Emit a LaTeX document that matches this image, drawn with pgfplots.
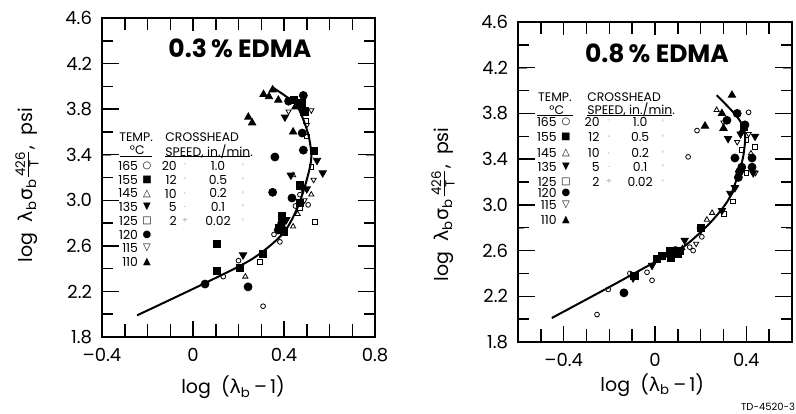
\documentclass[border=0pt]{standalone}
\usepackage{fontspec}
\setmainfont{Poppins}
\newfontfamily\greek{DejaVu Sans}
\newfontfamily\sym{DejaVu Sans}
\usepackage{amsmath}
\usepackage{pgfplots}
\pgfplotsset{compat=1.18}

\tikzset{
  leg/.style={font=\fontsize{6.2}{7}\selectfont, inner sep=0pt},
  lsym/.style={font=\sym\fontsize{5}{6}\selectfont, inner sep=0pt},
  ssym/.style={font=\sym\fontsize{3.5}{4}\selectfont, inner sep=0pt, gray},
  tk/.style={black, line width=0.75pt},
}

\pgfplotsset{
  panel/.style={
    scale only axis, anchor=south west,
    ymin=1.8, ymax=4.6,
    ytick={1.8,2.2,2.6,3.0,3.4,3.8,4.2,4.6},
    yticklabels={1.8,2.2,2.6,3.0,3.4,3.8,4.2,4.6},
    minor ytick={2.0,2.4,2.8,3.2,3.6,4.0,4.4},
    axis line style={line width=1pt},
    tick label style={font=\fontsize{9}{10}\selectfont},
    xticklabel style={yshift=-2pt},
    yticklabel style={xshift=-1.5pt},
    label style={font=\fontsize{9.5}{11}\selectfont},
    xlabel={log\ \ ({\greek λ}\textsubscript{b}\,\textendash\,1)},
    ylabel={log\ \ {\greek λ}\textsubscript{b}{\greek σ}\textsubscript{b}$\frac{\text{426}}{\text{T}}$,\ \ psi},
    clip=false,
  },
  fitcurve/.style={black, line width=1pt, smooth, no marks},
  t165/.style={only marks, mark=o, mark size=1.2pt, mark options={line width=0.4pt, black}},
  t155/.style={only marks, mark=square*, mark size=1.8pt, mark options={black}},
  t145/.style={only marks, mark=triangle, mark size=1.5pt, mark options={line width=0.4pt, black}},
  t135/.style={only marks, mark=triangle*, mark size=2.1pt, mark options={rotate=180, black}},
  t125/.style={only marks, mark=square, mark size=1.2pt, mark options={line width=0.4pt, black}},
  t120/.style={only marks, mark=*, mark size=2pt, mark options={black}},
  t115/.style={only marks, mark=triangle, mark size=1.5pt, mark options={rotate=180, line width=0.4pt, black}},
  t110/.style={only marks, mark=triangle*, mark size=2.1pt, mark options={black}},
}

\begin{document}
\begin{tikzpicture}
\useasboundingbox (0,0) rectangle (398pt,206.5pt);

% ---------------- 0.3 % EDMA ----------------
\begin{axis}[panel,
  at={(51pt,38pt)}, width=136.5pt, height=159.5pt,
  xmin=-0.4, xmax=0.8,
  xtick={-0.4,0,0.4,0.8}, xticklabels={\textendash0.4,0,0.4,0.8},
  minor xtick={-0.3,-0.2,-0.1,0.1,0.2,0.3,0.5,0.6,0.7},
  xlabel style={at={(axis description cs:0.48,-0.157)}, anchor=center},
  ylabel style={at={(axis description cs:-0.275,0.476)}, anchor=center},
]
% inward tick marks on all four sides
\draw[tk] (axis cs:-0.4,2.2)--(axis cs:-0.325,2.2) (axis cs:-0.4,2.6)--(axis cs:-0.325,2.6)
  (axis cs:-0.4,3.0)--(axis cs:-0.325,3.0) (axis cs:-0.4,3.4)--(axis cs:-0.325,3.4)
  (axis cs:-0.4,3.8)--(axis cs:-0.325,3.8) (axis cs:-0.4,4.2)--(axis cs:-0.325,4.2);
\draw[tk] (axis cs:0.8,2.2)--(axis cs:0.725,2.2) (axis cs:0.8,2.6)--(axis cs:0.725,2.6)
  (axis cs:0.8,3.0)--(axis cs:0.725,3.0) (axis cs:0.8,3.4)--(axis cs:0.725,3.4)
  (axis cs:0.8,3.8)--(axis cs:0.725,3.8) (axis cs:0.8,4.2)--(axis cs:0.725,4.2);
\draw[tk] (axis cs:-0.4,2.0)--(axis cs:-0.352,2.0) (axis cs:-0.4,2.4)--(axis cs:-0.352,2.4)
  (axis cs:-0.4,2.8)--(axis cs:-0.352,2.8) (axis cs:-0.4,3.2)--(axis cs:-0.352,3.2)
  (axis cs:-0.4,3.6)--(axis cs:-0.352,3.6) (axis cs:-0.4,4.0)--(axis cs:-0.352,4.0)
  (axis cs:-0.4,4.4)--(axis cs:-0.352,4.4);
\draw[tk] (axis cs:0.8,2.0)--(axis cs:0.752,2.0) (axis cs:0.8,2.4)--(axis cs:0.752,2.4)
  (axis cs:0.8,2.8)--(axis cs:0.752,2.8) (axis cs:0.8,3.2)--(axis cs:0.752,3.2)
  (axis cs:0.8,3.6)--(axis cs:0.752,3.6) (axis cs:0.8,4.0)--(axis cs:0.752,4.0)
  (axis cs:0.8,4.4)--(axis cs:0.752,4.4);
\draw[tk] (axis cs:0,1.8)--(axis cs:0,1.94) (axis cs:0.4,1.8)--(axis cs:0.4,1.94)
  (axis cs:0,4.6)--(axis cs:0,4.486) (axis cs:0.4,4.6)--(axis cs:0.4,4.486);
\draw[tk] (axis cs:-0.3,1.8)--(axis cs:-0.3,1.914) (axis cs:-0.2,1.8)--(axis cs:-0.2,1.914)
  (axis cs:-0.1,1.8)--(axis cs:-0.1,1.914) (axis cs:0.1,1.8)--(axis cs:0.1,1.914)
  (axis cs:0.2,1.8)--(axis cs:0.2,1.914) (axis cs:0.3,1.8)--(axis cs:0.3,1.914)
  (axis cs:0.5,1.8)--(axis cs:0.5,1.914) (axis cs:0.6,1.8)--(axis cs:0.6,1.914)
  (axis cs:0.7,1.8)--(axis cs:0.7,1.914);
\draw[tk] (axis cs:-0.3,4.6)--(axis cs:-0.3,4.495) (axis cs:-0.2,4.6)--(axis cs:-0.2,4.495)
  (axis cs:-0.1,4.6)--(axis cs:-0.1,4.495) (axis cs:0.1,4.6)--(axis cs:0.1,4.495)
  (axis cs:0.2,4.6)--(axis cs:0.2,4.495) (axis cs:0.3,4.6)--(axis cs:0.3,4.495)
  (axis cs:0.5,4.6)--(axis cs:0.5,4.495) (axis cs:0.6,4.6)--(axis cs:0.6,4.495)
  (axis cs:0.7,4.6)--(axis cs:0.7,4.495);

\addplot[fitcurve] coordinates {(-0.246,1.99) (0.06,2.28) (0.264,2.49) (0.396,2.71)
  (0.46,2.94) (0.50,3.18) (0.52,3.38) (0.505,3.59) (0.46,3.82) (0.41,3.91) (0.35,3.99)};
\addplot[t165] coordinates {(0.133,2.33) (0.20,2.47) (0.308,2.07) (0.356,2.70)
  (0.382,2.635) (0.506,2.96) (0.45,2.95) (0.47,3.05)};
\addplot[t155] coordinates {(0.104,2.38) (0.207,2.405) (0.104,2.62) (0.308,2.53)
  (0.47,2.98) (0.53,3.43) (0.48,3.85) (0.39,2.86) (0.38,2.76) (0.40,2.72)
  (0.47,3.13) (0.445,3.88) (0.49,3.78)};
\addplot[t145] coordinates {(0.23,2.33) (0.44,2.77) (0.44,3.22) (0.46,2.88) (0.52,3.05)};
\addplot[t135] coordinates {(0.22,2.52) (0.48,3.11) (0.50,3.10) (0.545,3.35)
  (0.57,3.24) (0.404,3.73) (0.43,3.22) (0.465,3.84) (0.41,2.83)};
\addplot[t125] coordinates {(0.295,2.46) (0.536,2.81) (0.497,3.70) (0.50,3.56)
  (0.52,3.29) (0.47,2.93)};
\addplot[t120] coordinates {(0.053,2.265) (0.242,2.24) (0.35,3.07) (0.36,3.38)
  (0.435,3.02) (0.485,3.44) (0.48,3.59) (0.485,3.92) (0.42,3.87) (0.396,2.74)
  (0.375,2.74) (0.39,2.80)};
\addplot[t115] coordinates {(0.52,3.79) (0.50,3.66) (0.53,3.18) (0.42,3.78) (0.49,3.00)};
\addplot[t110] coordinates {(0.35,3.97) (0.334,3.91) (0.243,3.73) (0.26,3.68)
  (0.44,3.60) (0.375,3.88) (0.45,3.82) (0.31,3.93)};

\node[font=\bfseries\fontsize{12.5}{14}\selectfont] at (axis description cs:0.505,0.906) {0.3\,\% EDMA};

% key: temperature and crosshead speed
\node[leg] at (axis cs:-0.25,3.556) {TEMP.};
\node[leg] at (axis cs:-0.245,3.44) {°C};
\draw[line width=0.5pt] (axis cs:-0.321,3.38) -- (axis cs:-0.18,3.38);
\node[leg, anchor=west] at (axis cs:-0.123,3.556) {CROSSHEAD};
\node[leg, anchor=west] at (axis cs:-0.123,3.43) {SPEED, in./min.};
\draw[line width=0.5pt] (axis cs:-0.123,3.38) -- (axis cs:0.25,3.38);

\node[leg, anchor=east] at (axis cs:-0.24,3.30) {165};
\node[leg, anchor=east] at (axis cs:-0.24,3.18) {155};
\node[leg, anchor=east] at (axis cs:-0.24,3.06) {145};
\node[leg, anchor=east] at (axis cs:-0.24,2.94) {135};
\node[leg, anchor=east] at (axis cs:-0.24,2.82) {125};
\node[leg, anchor=east] at (axis cs:-0.24,2.70) {120};
\node[leg, anchor=east] at (axis cs:-0.24,2.58) {115};
\node[leg, anchor=east] at (axis cs:-0.24,2.46) {110};
\node[lsym] at (axis cs:-0.202,3.30) {○};
\node[lsym] at (axis cs:-0.202,3.18) {■};
\node[lsym] at (axis cs:-0.202,3.06) {△};
\node[lsym] at (axis cs:-0.202,2.94) {▼};
\node[lsym] at (axis cs:-0.202,2.82) {□};
\node[lsym] at (axis cs:-0.202,2.70) {●};
\node[lsym] at (axis cs:-0.202,2.58) {▽};
\node[lsym] at (axis cs:-0.202,2.46) {▲};

\node[leg, anchor=east] at (axis cs:-0.07,3.30) {20};
\node[leg, anchor=east] at (axis cs:-0.07,3.18) {12};
\node[leg, anchor=east] at (axis cs:-0.07,3.06) {10};
\node[leg, anchor=east] at (axis cs:-0.07,2.94) {5};
\node[leg, anchor=east] at (axis cs:-0.07,2.82) {2};
\node[ssym] at (axis cs:-0.035,3.30) {ˈ};
\node[ssym] at (axis cs:-0.035,3.18) {-};
\node[ssym] at (axis cs:-0.035,3.06) {ˎ};
\node[ssym] at (axis cs:-0.035,2.94) {.};
\node[ssym] at (axis cs:-0.035,2.82) {÷};

\node[leg] at (axis cs:0.11,3.30) {1.0};
\node[leg] at (axis cs:0.11,3.18) {0.5};
\node[leg] at (axis cs:0.11,3.06) {0.2};
\node[leg] at (axis cs:0.11,2.94) {0.1};
\node[leg] at (axis cs:0.11,2.82) {0.02};
\node[ssym] at (axis cs:0.22,3.30) {◦};
\node[ssym] at (axis cs:0.22,3.18) {◦};
\node[ssym] at (axis cs:0.22,3.06) {◦};
\node[ssym] at (axis cs:0.22,2.94) {◦};
\node[ssym] at (axis cs:0.22,2.82) {◦};
\end{axis}

% ---------------- 0.8 % EDMA ----------------
\begin{axis}[panel,
  at={(259pt,35.5pt)}, width=137pt, height=160pt,
  xmin=-0.6, xmax=0.6,
  xtick={-0.4,0,0.4}, xticklabels={\textendash0.4,0,0.4},
  minor xtick={-0.5,-0.3,-0.2,-0.1,0.1,0.2,0.3,0.5},
  xlabel style={at={(axis description cs:0.49,-0.134)}, anchor=center},
  ylabel style={at={(axis description cs:-0.274,0.43)}, anchor=center},
]
% inward tick marks on all four sides
\draw[tk] (axis cs:-0.6,2.2)--(axis cs:-0.525,2.2) (axis cs:-0.6,2.6)--(axis cs:-0.525,2.6)
  (axis cs:-0.6,3.0)--(axis cs:-0.525,3.0) (axis cs:-0.6,3.4)--(axis cs:-0.525,3.4)
  (axis cs:-0.6,3.8)--(axis cs:-0.525,3.8) (axis cs:-0.6,4.2)--(axis cs:-0.525,4.2);
\draw[tk] (axis cs:0.6,2.2)--(axis cs:0.525,2.2) (axis cs:0.6,2.6)--(axis cs:0.525,2.6)
  (axis cs:0.6,3.0)--(axis cs:0.525,3.0) (axis cs:0.6,3.4)--(axis cs:0.525,3.4)
  (axis cs:0.6,3.8)--(axis cs:0.525,3.8) (axis cs:0.6,4.2)--(axis cs:0.525,4.2);
\draw[tk] (axis cs:-0.6,2.0)--(axis cs:-0.552,2.0) (axis cs:-0.6,2.4)--(axis cs:-0.552,2.4)
  (axis cs:-0.6,2.8)--(axis cs:-0.552,2.8) (axis cs:-0.6,3.2)--(axis cs:-0.552,3.2)
  (axis cs:-0.6,3.6)--(axis cs:-0.552,3.6) (axis cs:-0.6,4.0)--(axis cs:-0.552,4.0)
  (axis cs:-0.6,4.4)--(axis cs:-0.552,4.4);
\draw[tk] (axis cs:0.6,2.0)--(axis cs:0.552,2.0) (axis cs:0.6,2.4)--(axis cs:0.552,2.4)
  (axis cs:0.6,2.8)--(axis cs:0.552,2.8) (axis cs:0.6,3.2)--(axis cs:0.552,3.2)
  (axis cs:0.6,3.6)--(axis cs:0.552,3.6) (axis cs:0.6,4.0)--(axis cs:0.552,4.0)
  (axis cs:0.6,4.4)--(axis cs:0.552,4.4);
\draw[tk] (axis cs:-0.4,1.8)--(axis cs:-0.4,1.94) (axis cs:0,1.8)--(axis cs:0,1.94)
  (axis cs:0.4,1.8)--(axis cs:0.4,1.94)
  (axis cs:-0.4,4.6)--(axis cs:-0.4,4.486) (axis cs:0,4.6)--(axis cs:0,4.486)
  (axis cs:0.4,4.6)--(axis cs:0.4,4.486);
\draw[tk] (axis cs:-0.5,1.8)--(axis cs:-0.5,1.914) (axis cs:-0.3,1.8)--(axis cs:-0.3,1.914)
  (axis cs:-0.2,1.8)--(axis cs:-0.2,1.914) (axis cs:-0.1,1.8)--(axis cs:-0.1,1.914)
  (axis cs:0.1,1.8)--(axis cs:0.1,1.914) (axis cs:0.2,1.8)--(axis cs:0.2,1.914)
  (axis cs:0.3,1.8)--(axis cs:0.3,1.914) (axis cs:0.5,1.8)--(axis cs:0.5,1.914);
\draw[tk] (axis cs:-0.5,4.6)--(axis cs:-0.5,4.495) (axis cs:-0.3,4.6)--(axis cs:-0.3,4.495)
  (axis cs:-0.2,4.6)--(axis cs:-0.2,4.495) (axis cs:-0.1,4.6)--(axis cs:-0.1,4.495)
  (axis cs:0.1,4.6)--(axis cs:0.1,4.495) (axis cs:0.2,4.6)--(axis cs:0.2,4.495)
  (axis cs:0.3,4.6)--(axis cs:0.3,4.495) (axis cs:0.5,4.6)--(axis cs:0.5,4.495);

\addplot[fitcurve] coordinates {(-0.452,2.01) (-0.21,2.27) (-0.009,2.49) (0.123,2.63)
  (0.24,2.84) (0.32,3.04) (0.36,3.24) (0.386,3.42) (0.394,3.63) (0.36,3.77) (0.27,3.96)};
\addplot[t165] coordinates {(-0.254,2.04) (-0.205,2.26) (-0.11,2.40) (-0.035,2.41)
  (-0.013,2.34) (0.035,2.54) (0.167,2.60) (0.152,2.63) (0.205,2.72) (0.184,3.65)
  (0.145,3.42) (0.41,3.81)};
\addplot[t155] coordinates {(0.009,2.53) (0.065,2.60) (0.10,2.57) (0.07,2.54)
  (0.11,2.60) (0.03,2.55) (-0.09,2.38) (0.20,2.80) (0.39,3.68)};
\addplot[t145] coordinates {(0.227,2.87) (0.25,2.93) (0.27,3.83) (0.42,3.45) (0.12,2.62)};
\addplot[t135] coordinates {(-0.096,2.36) (-0.013,2.47) (0.13,2.69) (0.293,2.95)
  (0.33,3.10) (0.35,3.15) (0.43,3.28) (0.438,3.60) (0.375,3.62) (0.32,3.58) (0.20,2.78)};
\addplot[t125] coordinates {(0.34,3.03) (0.40,3.57) (0.438,3.51) (0.40,3.28)
  (0.38,3.48) (0.30,2.92)};
\addplot[t120] coordinates {(-0.136,2.23) (0.365,3.24) (0.37,3.29) (0.38,3.33)
  (0.35,3.41) (0.425,3.41) (0.425,3.33) (0.394,3.70) (0.36,3.80) (0.315,3.74)
  (0.07,2.58) (0.09,2.60)};
\addplot[t115] coordinates {(0.41,3.62) (0.36,3.55) (0.30,3.72) (0.18,2.66) (0.44,3.28)};
\addplot[t110] coordinates {(0.30,3.67) (0.293,3.80) (0.337,3.96) (0.219,3.69) (0.38,3.64)};

\node[font=\bfseries\fontsize{12.5}{14}\selectfont] at (axis description cs:0.507,0.903) {0.8\,\% EDMA};

% key: temperature and crosshead speed
\node[leg] at (axis cs:-0.438,3.94) {TEMP.};
\node[leg] at (axis cs:-0.43,3.83) {°C};
\draw[line width=0.5pt] (axis cs:-0.517,3.786) -- (axis cs:-0.359,3.786);
\node[leg, anchor=west] at (axis cs:-0.298,3.94) {CROSSHEAD};
\node[leg, anchor=west] at (axis cs:-0.298,3.83) {SPEED, in./min.};
\draw[line width=0.5pt] (axis cs:-0.298,3.786) -- (axis cs:0.075,3.786);

\node[leg, anchor=east] at (axis cs:-0.429,3.725) {165};
\node[leg, anchor=east] at (axis cs:-0.429,3.594) {155};
\node[leg, anchor=east] at (axis cs:-0.429,3.454) {145};
\node[leg, anchor=east] at (axis cs:-0.429,3.331) {135};
\node[leg, anchor=east] at (axis cs:-0.429,3.200) {125};
\node[leg, anchor=east] at (axis cs:-0.429,3.104) {120};
\node[leg, anchor=east] at (axis cs:-0.429,2.999) {115};
\node[leg, anchor=east] at (axis cs:-0.429,2.867) {110};
\node[lsym] at (axis cs:-0.39,3.725) {○};
\node[lsym] at (axis cs:-0.39,3.594) {■};
\node[lsym] at (axis cs:-0.39,3.454) {△};
\node[lsym] at (axis cs:-0.39,3.331) {▼};
\node[lsym] at (axis cs:-0.39,3.200) {□};
\node[lsym] at (axis cs:-0.39,3.104) {●};
\node[lsym] at (axis cs:-0.39,2.999) {▽};
\node[lsym] at (axis cs:-0.39,2.867) {▲};

\node[leg, anchor=east] at (axis cs:-0.241,3.725) {20};
\node[leg, anchor=east] at (axis cs:-0.241,3.594) {12};
\node[leg, anchor=east] at (axis cs:-0.241,3.454) {10};
\node[leg, anchor=east] at (axis cs:-0.241,3.331) {5};
\node[leg, anchor=east] at (axis cs:-0.241,3.200) {2};
\node[ssym] at (axis cs:-0.201,3.725) {ˈ};
\node[ssym] at (axis cs:-0.201,3.594) {-};
\node[ssym] at (axis cs:-0.201,3.454) {ˎ};
\node[ssym] at (axis cs:-0.201,3.331) {.};
\node[ssym] at (axis cs:-0.201,3.200) {÷};

\node[leg] at (axis cs:-0.065,3.725) {1.0};
\node[leg] at (axis cs:-0.065,3.594) {0.5};
\node[leg] at (axis cs:-0.065,3.454) {0.2};
\node[leg] at (axis cs:-0.065,3.331) {0.1};
\node[leg] at (axis cs:-0.065,3.200) {0.02};
\node[ssym] at (axis cs:0.035,3.725) {◦};
\node[ssym] at (axis cs:0.035,3.594) {◦};
\node[ssym] at (axis cs:0.035,3.454) {◦};
\node[ssym] at (axis cs:0.035,3.331) {◦};
\node[ssym] at (axis cs:0.035,3.200) {◦};
\end{axis}

\node[font=\fontsize{5}{6}\selectfont, inner sep=0pt] at (384pt,3pt) {TD-4520-3};
\end{tikzpicture}
\end{document}
